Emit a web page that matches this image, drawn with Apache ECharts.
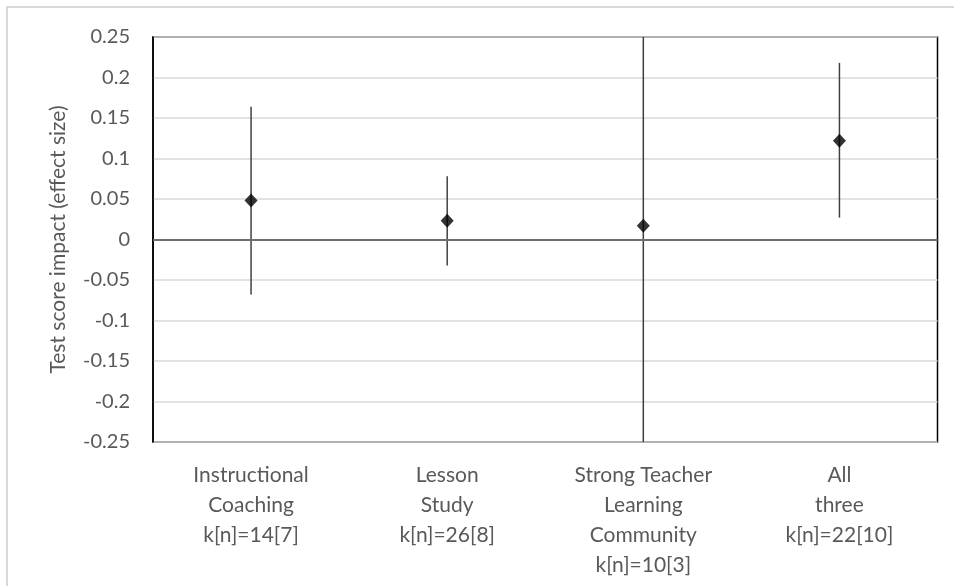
<!DOCTYPE html>
<html>
<head>
<meta charset="utf-8">
<script src="https://cdn.jsdelivr.net/npm/echarts@6/dist/echarts.min.js"></script>
<style>
  html, body { margin: 0; padding: 0; background: #fff; }
  #chart { width: 954px; height: 586px; }
</style>
</head>
<body>
<div id="chart"></div>
<script>
// Program types and study counts
const programs = ['Instructional\nCoaching', 'Lesson\nStudy', 'Strong Teacher\nLearning\nCommunity', 'All\nthree'];
const studyCounts = ['k[n]=14[7]', 'k[n]=26[8]', 'k[n]=10[3]', 'k[n]=22[10]'];

// Pooled effect size with confidence interval bounds
const effect = [0.048, 0.023, 0.017, 0.122];
const lower = [-0.068, -0.032, -0.33, 0.027];
const upper = [0.164, 0.078, 0.36, 0.218];

// Value axis ticks
const yTicks = [-0.25, -0.2, -0.15, -0.1, -0.05, 0, 0.05, 0.1, 0.15, 0.2, 0.25];

const categories = programs.map((p, i) => p + '\n' + studyCounts[i]);
const textColor = '#595959';
const fontFamily = 'Lato, "Liberation Sans", sans-serif';

const chart = echarts.init(document.getElementById('chart'), null, { renderer: 'canvas' });

chart.setOption({
  animation: false,
  backgroundColor: '#fff',
  graphic: [{
    type: 'rect',
    z: -10,
    shape: { x: 7, y: 7, width: 1100, height: 1100 },
    style: { fill: 'none', stroke: '#d9d9d9', lineWidth: 2 }
  }],
  grid: {
    left: 153, top: 37, right: 16.5, bottom: 144,
    show: true, borderColor: '#000', borderWidth: 1.5, backgroundColor: 'transparent'
  },
  xAxis: {
    type: 'category',
    data: categories,
    boundaryGap: true,
    axisLine: { show: true, lineStyle: { color: '#000', width: 1.5 } },
    axisTick: { show: false },
    splitLine: { show: false },
    axisLabel: {
      interval: 0,
      color: textColor,
      fontFamily: fontFamily,
      fontSize: 21,
      lineHeight: 30,
      margin: 18
    }
  },
  yAxis: {
    type: 'value',
    min: yTicks[0],
    max: yTicks[yTicks.length - 1],
    interval: 0.05,
    name: 'Test score impact (effect size)',
    nameLocation: 'middle',
    nameGap: 84,
    nameTextStyle: { color: textColor, fontFamily: fontFamily, fontSize: 21 },
    axisLine: { show: true, lineStyle: { color: '#000', width: 1.5 } },
    axisTick: { show: false },
    splitLine: { show: true, lineStyle: { color: '#d9d9d9', width: 1.5 } },
    axisLabel: {
      color: textColor,
      fontFamily: fontFamily,
      fontSize: 20,
      margin: 23,
      formatter: function (v) {
        const t = yTicks.find(x => Math.abs(x - v) < 1e-9);
        return String(t !== undefined ? t : v);
      }
    }
  },
  series: [
    {
      type: 'custom',
      clip: true,
      z: 3,
      data: categories.map((c, i) => [i, lower[i], upper[i]]),
      renderItem: function (params, api) {
        const lo = api.coord([api.value(0), api.value(1)]);
        const hi = api.coord([api.value(0), api.value(2)]);
        return {
          type: 'line',
          shape: { x1: lo[0], y1: lo[1], x2: hi[0], y2: hi[1] },
          style: { stroke: '#404040', lineWidth: 1.5 }
        };
      }
    },
    {
      type: 'scatter',
      z: 5,
      symbol: 'diamond',
      symbolSize: [13, 14],
      itemStyle: { color: '#000' },
      data: effect.map((v, i) => [i, v]),
      markLine: {
        silent: true,
        symbol: ['none', 'none'],
        label: { show: false },
        lineStyle: { color: '#808080', width: 1.5, type: 'solid' },
        data: [{ yAxis: 0 }]
      }
    }
  ]
});
</script>
</body>
</html>
